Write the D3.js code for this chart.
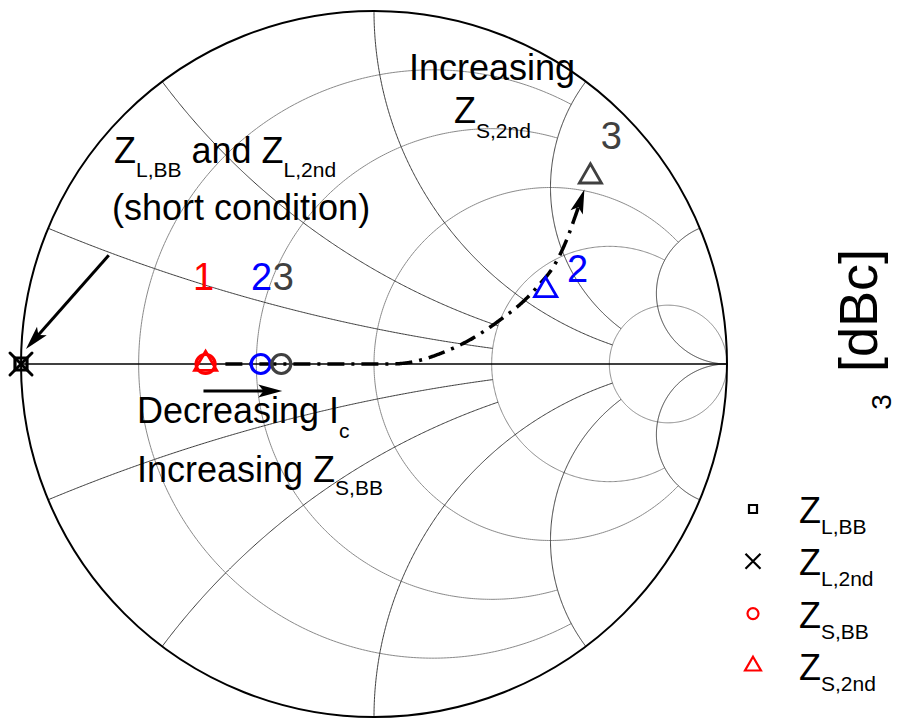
<!DOCTYPE html>
<html>
<head>
<meta charset="utf-8">
<script src="https://cdn.jsdelivr.net/npm/d3@7"></script>
<style>
  html, body { margin: 0; padding: 0; background: #fff; }
  svg { display: block; font-family: "Liberation Sans", Arial, Helvetica, sans-serif; }
  text { white-space: pre; }
</style>
</head>
<body>
<svg id="chart" width="898" height="720"></svg>
<script>
// ---- Smith chart grid: circle values and where each circle stops ----
const gridValues = [0.2, 0.5, 1, 2, 5];
const gridEnds   = [2, 2, 5, 5, Infinity];

// ---- Normalized impedances (z = Z / Z0) for the three bias points ----
const pointLabels = ["1", "2", "3"];
const pointColors = ["#ff0000", "#0000ff", "#404040"];
const zLoadBBRe   = [0];      // short condition
const zLoadBBIm   = [0];
const zLoad2ndRe  = [0];
const zLoad2ndIm  = [0];
const zSourceBBRe  = [0.354, 0.514, 0.584];
const zSourceBBIm  = [0, 0, 0];
const zSource2ndRe = [0.354, 2.34, 0.793];
const zSource2ndIm = [0, 1.36, 2.46];

// ---- Trend path drawn across the chart (reflection-coefficient plane) ----
const trendRe = [-0.421, 0.045, 0.110, 0.206, 0.271, 0.356, 0.427, 0.469, 0.511, 0.545, 0.571, 0.596];
const trendIm = [0, 0, 0.006, 0.037, 0.068, 0.124, 0.181, 0.226, 0.280, 0.350, 0.421, 0.494];

// ---- Legend entries ----
const legendNames = [["Z", "L,BB"], ["Z", "L,2nd"], ["Z", "S,BB"], ["Z", "S,2nd"]];
const legendShapes = ["square", "x", "circle", "triangle"];
const legendColors = ["#000000", "#000000", "#ff0000", "#ff0000"];

// ---------------------------------------------------------------------
const svg = d3.select("#chart");
const cx = 374, cy = 364, R = 353;
const gx = d3.scaleLinear().domain([-1, 1]).range([cx - R, cx + R]);
const gy = d3.scaleLinear().domain([-1, 1]).range([cy + R, cy - R]);
const line = d3.line().x(p => gx(p[0])).y(p => gy(p[1]));

// z -> reflection coefficient
function gamma(re, im) {
  const nr = re - 1, ni = im, dr = re + 1, di = im;
  const d = dr * dr + di * di;
  return [(nr * dr + ni * di) / d, (ni * dr - nr * di) / d];
}

// Constant-resistance circle, limited to |x| <= end
function resistanceArc(r, end) {
  const c = r / (1 + r), rad = 1 / (1 + r);
  let a0 = 0;
  if (isFinite(end)) { const g = gamma(r, end); a0 = Math.atan2(g[1], g[0] - c); }
  return d3.range(0, 401).map(i => {
    const a = a0 + (2 * Math.PI - 2 * a0) * i / 400;
    return [c + rad * Math.cos(a), rad * Math.sin(a)];
  });
}

// Constant-reactance circle, from the rim up to r = end
function reactanceArc(x, end) {
  const c = [1, 1 / x], rad = Math.abs(1 / x);
  const g1 = gamma(0, x);
  const g2 = isFinite(end) ? gamma(end, x) : [1, 0];
  const a1 = Math.atan2(g1[1] - c[1], g1[0] - c[0]);
  const a2 = Math.atan2(g2[1] - c[1], g2[0] - c[0]);
  let d = a2 - a1;
  while (d > Math.PI) d -= 2 * Math.PI;
  while (d <= -Math.PI) d += 2 * Math.PI;
  return d3.range(0, 301).map(i => {
    const a = a1 + d * i / 300;
    return [c[0] + rad * Math.cos(a), c[1] + rad * Math.sin(a)];
  });
}

// ---- grid ----
const grid = svg.append("g").attr("fill", "none");
gridValues.forEach((v, i) => {
  grid.append("path").attr("d", line(resistanceArc(v, gridEnds[i])))
    .attr("stroke", "#8a8a8a").attr("stroke-width", 1);
});
gridValues.forEach((v, i) => {
  [v, -v].forEach(x => {
    grid.append("path").attr("d", line(reactanceArc(x, gridEnds[i])))
      .attr("stroke", "#3c3c3c").attr("stroke-width", 1);
  });
});
// real axis and rim
svg.append("line")
  .attr("x1", gx(-1)).attr("x2", gx(1)).attr("y1", gy(0)).attr("y2", gy(0))
  .attr("stroke", "#000").attr("stroke-width", 1.6);
svg.append("circle").attr("cx", gx(0)).attr("cy", gy(0)).attr("r", gx(1) - gx(0))
  .attr("fill", "none").attr("stroke", "#000").attr("stroke-width", 2);

// ---- arrows ----
function arrowHead(g, tip, from, len, width) {
  const ang = Math.atan2(tip[1] - from[1], tip[0] - from[0]) * 180 / Math.PI;
  g.append("path")
    .attr("d", `M0,0L${-len},${-width / 2}L${-len * 0.78},0L${-len},${width / 2}Z`)
    .attr("transform", `translate(${tip[0]},${tip[1]}) rotate(${ang})`)
    .attr("fill", "#000");
}
function straightArrow(g, a, b) {
  const p0 = [gx(a[0]), gy(a[1])], p1 = [gx(b[0]), gy(b[1])];
  const L = Math.hypot(p1[0] - p0[0], p1[1] - p0[1]);
  const k = (L - 16) / L;
  g.append("line").attr("x1", p0[0]).attr("y1", p0[1])
    .attr("x2", p0[0] + (p1[0] - p0[0]) * k).attr("y2", p0[1] + (p1[1] - p0[1]) * k)
    .attr("stroke", "#000").attr("stroke-width", 3);
  arrowHead(g, p1, p0, 24, 13);
}

const ann = svg.append("g");
// trend path (dash-dot) ending in an arrow
const trendPts = trendRe.map((re, i) => [re, trendIm[i]]);
const lineCurve = d3.line().x(p => gx(p[0])).y(p => gy(p[1])).curve(d3.curveMonotoneX);
const probe = ann.append("path").attr("d", lineCurve(trendPts)).attr("fill", "none");
const total = probe.node().getTotalLength();
const sampled = d3.range(0, total - 14, 1).map(s => {
  const q = probe.node().getPointAtLength(s); return [q.x, q.y];
});
const tipQ = probe.node().getPointAtLength(total);
const backQ = probe.node().getPointAtLength(total - 20);
probe.remove();
ann.append("path").attr("d", d3.line()(sampled))
  .attr("fill", "none").attr("stroke", "#000").attr("stroke-width", 3.5)
  .attr("stroke-dasharray", "17 7 3 7");
arrowHead(ann, [tipQ.x, tipQ.y], [backQ.x, backQ.y], 24, 13);

// short-condition pointer and bias-current arrow
straightArrow(ann, [-0.7514, 0.3079], [-0.9859, 0.0424]);
straightArrow(ann, [-0.4831, -0.0763], [-0.2599, -0.0763]);

// ---- markers ----
function markerPath(kind, s) {
  const p = d3.path();
  if (kind === "square") p.rect(-s / 2, -s / 2, s, s);
  else if (kind === "x") { p.moveTo(-s, -s); p.lineTo(s, s); p.moveTo(-s, s); p.lineTo(s, -s); }
  else if (kind === "circle") { p.moveTo(s, 0); p.arc(0, 0, s, 0, 2 * Math.PI); p.closePath(); }
  else if (kind === "triangle") {
    p.moveTo(0, -2 * s); p.lineTo(Math.sqrt(3) * s, s); p.lineTo(-Math.sqrt(3) * s, s); p.closePath();
  }
  return p.toString();
}
const marks = svg.append("g").attr("fill", "none");
function plotMarks(reArr, imArr, kind, size, width, colorOf) {
  reArr.forEach((re, i) => {
    const g = gamma(re, imArr[i]);
    marks.append("path").attr("d", markerPath(kind, size))
      .attr("transform", `translate(${gx(g[0])},${gy(g[1])})`)
      .attr("stroke", colorOf(i)).attr("stroke-width", width)
      .attr("stroke-linecap", "round").attr("stroke-linejoin", "miter");
  });
}
plotMarks(zLoadBBRe, zLoadBBIm, "square", 12, 3.2, () => "#000");
plotMarks(zLoad2ndRe, zLoad2ndIm, "x", 11, 3, () => "#000");
plotMarks(zSourceBBRe, zSourceBBIm, "circle", 9.5, 3.2, i => pointColors[i]);
plotMarks(zSource2ndRe, zSource2ndIm, "triangle", 6.4, 2.8, i => pointColors[i]);

// ---- point numbers ----
const nums = svg.append("g").attr("font-size", 38).attr("text-anchor", "middle");
zSourceBBRe.forEach((re, i) => {
  const g = gamma(re, zSourceBBIm[i]);
  nums.append("text").attr("x", gx(g[0]) + [-2, 1, 2][i]).attr("y", gy(g[1]) - 74)
    .attr("fill", pointColors[i]).text(pointLabels[i]);
});
zSource2ndRe.forEach((re, i) => {
  if (i === 0) return;
  const g = gamma(re, zSource2ndIm[i]);
  const off = [[0, 0], [32, -8], [21, -28]][i];
  nums.append("text").attr("x", gx(g[0]) + off[0]).attr("y", gy(g[1]) + off[1])
    .attr("fill", pointColors[i]).text(pointLabels[i]);
});

// ---- rich text with subscripts ----
function richText(g, x, y, parts, size, subSize, subShift, fill) {
  const t = g.append("text").attr("x", x).attr("y", y)
    .attr("font-size", size).attr("fill", fill || "#000");
  let low = false;
  parts.forEach(p => {
    const ts = t.append("tspan").text(p[0]);
    if (p[1]) {
      ts.attr("font-size", subSize);
      if (!low) { ts.attr("dy", subShift); low = true; }
    } else if (low) { ts.attr("dy", -subShift); low = false; }
  });
  return t;
}
const notes = svg.append("g");
richText(notes, 114, 163, [["Z"], ["L,BB", 1], [" and Z"], ["L,2nd", 1]], 36, 21, 14);
richText(notes, 112, 220, [["(short condition)"]], 36, 21, 14);
richText(notes, 409, 80, [["Increasing"]], 36, 21, 14);
richText(notes, 454, 123, [["Z"], ["S,2nd", 1]], 36, 21, 15);
richText(notes, 137, 423, [["Decreasing I"], ["c", 1]], 36, 21, 15);
richText(notes, 137, 482, [["Increasing Z"], ["S,BB", 1]], 36, 21, 13);

// ---- legend ----
const legend = svg.append("g");
legendNames.forEach((nm, i) => {
  const y = 509 + 52.3 * i;
  legend.append("path").attr("d", markerPath(legendShapes[i], [8, 7.5, 5.5, 4.6][i]))
    .attr("transform", `translate(753,${y})`).attr("fill", "none")
    .attr("stroke", legendColors[i]).attr("stroke-width", 2.2);
  richText(legend, 799, y + 14, [[nm[0]], [nm[1], 1]], 36, 21, 11);
});

// ---- colour-bar caption ----
svg.append("text").attr("transform", "translate(877,372) rotate(-90)")
  .attr("font-size", 54).text("[dBc]");
svg.append("text").attr("transform", "translate(891,402) rotate(-90)")
  .attr("font-size", 28).attr("text-anchor", "middle").text("3");
</script>
</body>
</html>
